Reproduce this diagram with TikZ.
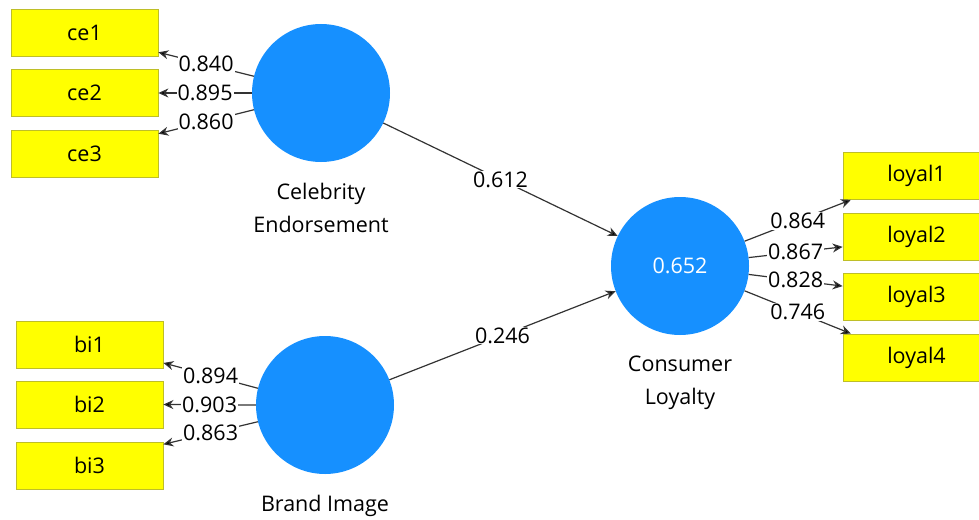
\documentclass[tikz,border=0pt]{standalone}
\usepackage{fontspec}
\setmainfont{Open Sans}
\usepackage{xcolor}
\usetikzlibrary{positioning, arrows.meta}

\definecolor{lvblue}{RGB}{22,144,255}
\definecolor{mvyellow}{RGB}{255,255,0}
\definecolor{mvedge}{RGB}{190,190,40}

\begin{document}
\begin{tikzpicture}[
    x=1pt, y=-1pt,
    font=\fontsize{21.5}{33}\selectfont,
    latent/.style={
        circle,
        fill=lvblue,
        minimum size=138pt,
        inner sep=0pt,
        text=white
    },
    indicator/.style={
        rectangle,
        draw=mvedge,
        line width=0.8pt,
        fill=mvyellow,
        minimum width=147pt,
        minimum height=47pt,
        inner sep=0pt
    },
    caption/.style={align=center, inner sep=0pt},
    arr/.style={-{Stealth[length=10pt, width=9pt, fill=black]}, line width=1.2pt, draw=black!80},
    coef/.style={midway, fill=white, inner sep=1pt}
]

\useasboundingbox (0, 0) rectangle (979, 519);

% latent variables
\node[latent] (ce) at (321,  93) {};
\node[latent] (bi) at (325, 405) {};
\node[latent] (cl) at (680, 266) {0.652};

\node[caption, below=21pt of ce] (celab) {Celebrity\\Endorsement};
\node[caption, below=21pt of bi] (bilab) {Brand Image};
\node[caption, below=21pt of cl] (cllab) {Consumer\\Loyalty};

% indicators
\node[indicator] (ce1) at (84.5,  32.5) {ce1};
\node[indicator] (ce2) at (84.5,  93)   {ce2};
\node[indicator] (ce3) at (84.5, 153.5) {ce3};

\node[indicator] (bi1) at (89.5, 344.5) {bi1};
\node[indicator] (bi2) at (89.5, 404.5) {bi2};
\node[indicator] (bi3) at (89.5, 465.5) {bi3};

\node[indicator] (loyal1) at (916.5, 176)   {loyal1};
\node[indicator] (loyal2) at (916.5, 236.5) {loyal2};
\node[indicator] (loyal3) at (916.5, 296.5) {loyal3};
\node[indicator] (loyal4) at (916.5, 357.5) {loyal4};

% outer loadings
\draw[arr] (ce.166) -- node[coef] {0.840} (ce1.-15);
\draw[arr] (ce.180) -- node[coef] {0.895} (ce2.east);
\draw[arr] (ce.194) -- node[coef] {0.860} (ce3.15);

\draw[arr] (bi.166) -- node[coef] {0.894} (bi1.-14);
\draw[arr] (bi.180) -- node[coef] {0.903} (bi2.east);
\draw[arr] (bi.194) -- node[coef] {0.863} (bi3.16);

\draw[arr] (cl.21)  -- node[coef] {0.864} (loyal1.200);
\draw[arr] (cl.7)   -- node[coef] {0.867} (loyal2.188);
\draw[arr] (cl.-7)  -- node[coef] {0.828} (loyal3.172);
\draw[arr] (cl.-21) -- node[coef] {0.746} (loyal4.160);

% path coefficients
\draw[arr] (ce) -- node[coef] {0.612} (cl);
\draw[arr] (bi) -- node[coef] {0.246} (cl);

\end{tikzpicture}
\end{document}
